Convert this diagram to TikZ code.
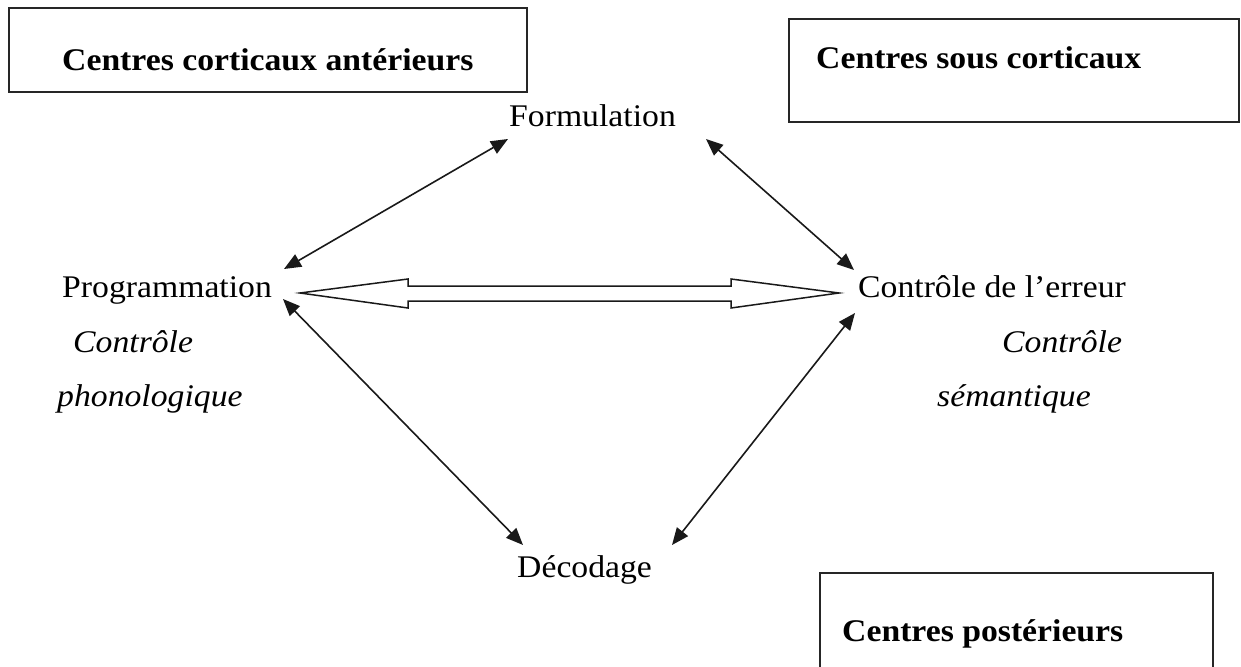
\documentclass[tikz,border=0pt]{standalone}
\usepackage{fontspec}
\setmainfont[FakeStretch=1.07]{Liberation Serif}
\usetikzlibrary{arrows.meta}
\tikzset{
  lbl/.style={anchor=base west,inner sep=0pt,font=\fontsize{31.5}{36}\selectfont},
  ttl/.style={lbl,font=\fontsize{31.5}{36}\selectfont\bfseries},
  itl/.style={lbl,font=\fontsize{31.5}{36}\selectfont\itshape},
  boxline/.style={line width=2pt,draw=black!85},
  link/.style={line width=1.6pt,draw=black!90,{Triangle[length=17pt,width=14pt]}-{Triangle[length=17pt,width=14pt]}},
  hollow/.style={line width=1.5pt,draw=black!90,fill=white,line join=miter}
}
\begin{document}
\begin{tikzpicture}[x=1pt,y=-1pt]
\useasboundingbox (0,0) rectangle (1241,666);
% boxes
\draw[boxline] (9,8) rectangle (527,92);
\draw[boxline] (789,19) rectangle (1239,122);
\draw[boxline] (820,700) -- (820,573) -- (1213,573) -- (1213,700);
\node[ttl] (t1) at (62,71) {Centres corticaux antérieurs};
\node[ttl] (t2) at (816,69) {Centres sous corticaux};
\node[ttl] (t3) at (842,641) {Centres postérieurs};
% main labels
\node[lbl] (form) at (509,127) {Formulation};
\node[lbl] (prog) at (62,297) {Programmation};
\node[lbl] (ctrl) at (858,297) {Contrôle de l’erreur};
\node[lbl] (dec) at (517,577) {Décodage};
\node[itl] (cl1) at (73,352) {Contrôle};
\node[itl] (cl2) at (57,406) {phonologique};
\node[itl] (cr1) at (1002,352) {Contrôle};
\node[itl] (cr2) at (937,406) {sémantique};
% arrow ends
\coordinate (pf1) at (284,269);
\coordinate (pf2) at (508,139);
\coordinate (fc1) at (706,139);
\coordinate (fc2) at (854,270);
\coordinate (pd1) at (283,299);
\coordinate (pd2) at (523,545);
\coordinate (cd1) at (855,313);
\coordinate (cd2) at (672,545);
\draw[link] (pf1) -- (pf2);
\draw[link] (fc1) -- (fc2);
\draw[link] (pd1) -- (pd2);
\draw[link] (cd1) -- (cd2);
% hollow double arrow
\coordinate (ha) at (300,293);
\coordinate (hb) at (839,293);
\draw[hollow] (ha) -- (408,279) -- (408,286) -- (731,286) -- (731,279) -- (hb)
  -- (731,308) -- (731,301) -- (408,301) -- (408,308) -- cycle;
\end{tikzpicture}
\end{document}
